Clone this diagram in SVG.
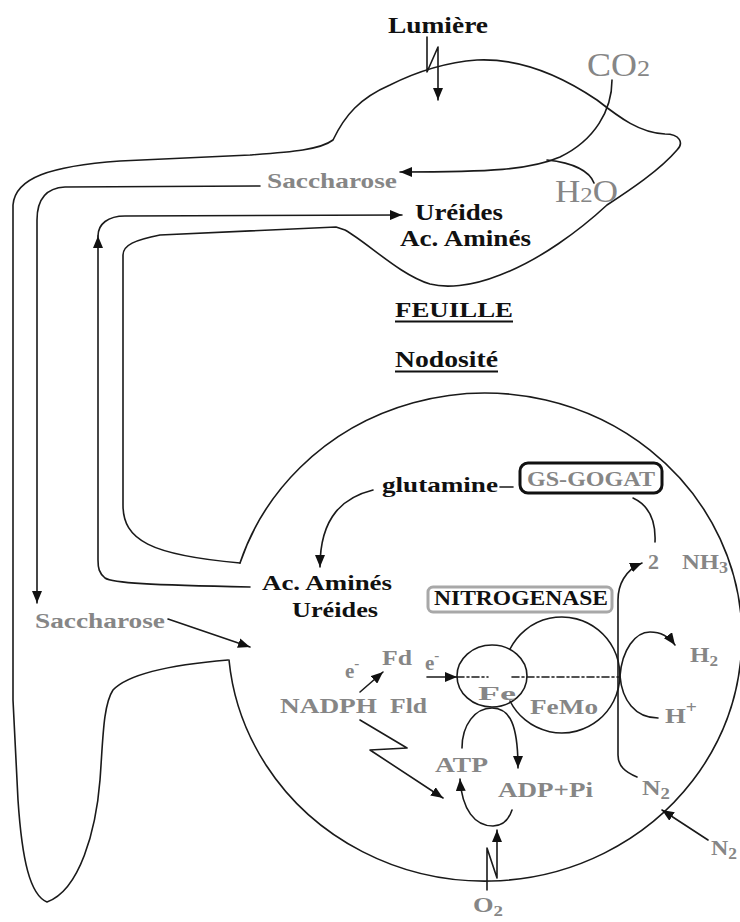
<svg xmlns="http://www.w3.org/2000/svg" width="740" height="922" viewBox="0 0 740 922">
  <style>
    .ln { fill: none; stroke: #1a1a1a; stroke-width: 1.6; stroke-linecap: round; stroke-linejoin: round; }
    .ar { marker-end: url(#head); }
    .tb { font-family: "Liberation Serif", "Times New Roman", serif; font-weight: bold; fill: #111; }
    .tg { font-family: "Liberation Serif", "Times New Roman", serif; font-weight: bold; fill: #868686; }
    .tr { font-family: "Liberation Serif", "Times New Roman", serif; fill: #868686; }
  </style>
  <defs>
    <marker id="head" markerUnits="userSpaceOnUse" markerWidth="13" markerHeight="10" refX="12" refY="5" orient="auto">
      <path d="M0,0 L12,5 L0,10 z" fill="#111"/>
    </marker>
  </defs>
  <rect width="740" height="922" fill="#fff"/>

  <!-- plant outline: leaf, stem and root -->
  <g id="plant">
    <path class="ln" d="M228,660 C180,664 130,672 113,690 C103,705 103,740 100,780 C96,830 80,890 47,902 C30,895 22,860 18,800 L13,700 L13,205 C15,178 50,166 120,161 L250,155 C290,152 320,150 333,140 C345,115 360,98 390,85 C420,70 450,62 477,60 C520,58 560,75 597,100 C620,118 640,133 665,134 C680,134 684,143 677,150 C660,170 630,190 607,205 C580,230 540,260 500,275 C470,287 445,288 430,284 C400,275 368,243 345,230 L336,227 L160,235 C135,240 123,245 123,255 L123,505 C123,540 150,555 240,563"/>
  </g>

  <!-- nodule -->
  <g id="nodule">
    <path class="ln" d="M240,563 A257,244 0 1 1 229,660"/>
  </g>

  <!-- nitrogenase subunits -->
  <g id="nitrogenase-complex">
    <ellipse class="ln" cx="492" cy="676" rx="35" ry="31"/>
    <path class="ln" d="M510,649 A58,58 0 1 1 510,701"/>
  </g>

  <g id="connectors">
    <!-- light -->
    <path class="ln ar" d="M427,37 L427,72 L438,47 L438,100"/>
    <!-- CO2 to sucrose -->
    <path class="ln ar" d="M612,80 C612,110 595,140 560,157 C530,170 490,172 400,172"/>
    <!-- water -->
    <path class="ln" d="M547,160 C575,163 590,172 594,183"/>
    <!-- sucrose down to the nodule -->
    <path class="ln ar" d="M260,186 L65,187 C45,188 37,200 37,220 L37,603"/>
    <path class="ln ar" d="M168,619 L250,647"/>
    <!-- amino acids up to the leaf -->
    <path class="ln ar" d="M250,587 C150,585 112,583 105,578 C99,573 98,568 98,560 L98,236"/>
    <path class="ln ar" d="M98,236 C98,224 108,216 125,216 L402,215"/>
    <!-- glutamine -->
    <path class="ln ar" d="M373,490 C345,497 320,515 320,567"/>
    <path class="ln" d="M500,487 L513,487"/>
    <path class="ln" d="M633,498 C648,505 656,520 655,542"/>
    <!-- N2 to NH3 -->
    <path class="ln ar" d="M637,777 C625,772 618,766 618,755 L618,600 C618,585 625,570 642,563"/>
    <!-- H2 / H+ -->
    <path class="ln ar" d="M620,676 C622,650 635,632 650,632 C662,632 670,638 675,645"/>
    <path class="ln" d="M620,676 C622,700 635,718 658,718"/>
    <!-- electrons -->
    <path class="ln ar" d="M360,692 L383,672"/>
    <path class="ln ar" d="M427,677 L457,677"/>
    <path class="ln" d="M457,677 L488,677 M512,677 L620,677" stroke-dasharray="7 3 2 3" stroke-width="1.2"/>
    <!-- ATP cycle -->
    <path class="ln ar" d="M462,748 C462,725 475,708 492,708 C510,708 518,725 518,768"/>
    <path class="ln ar" d="M512,810 C508,822 500,826 493,826 C475,826 462,810 460,779"/>
    <path class="ln ar" d="M360,720 L407,748 L370,750 L443,798"/>
    <!-- external N2 and O2 -->
    <path class="ln ar" d="M708,840 L662,810"/>
    <path class="ln ar" d="M487,890 L487,848 L497,878 L497,830"/>
  </g>

  <!-- labels -->
  <g id="leaf-labels">
    <text class="tb" x="388" y="33" font-size="24" textLength="100" lengthAdjust="spacingAndGlyphs">Lumière</text>
    <text class="tr" x="587" y="76" font-size="33" textLength="63" lengthAdjust="spacingAndGlyphs">CO<tspan font-size="24">2</tspan></text>
    <text class="tr" x="555" y="202" font-size="31" textLength="63" lengthAdjust="spacingAndGlyphs">H<tspan font-size="22">2</tspan>O</text>
    <text class="tg" x="267" y="188" font-size="22" textLength="130" lengthAdjust="spacingAndGlyphs">Saccharose</text>
    <text class="tb" x="415" y="220" font-size="24" textLength="88" lengthAdjust="spacingAndGlyphs">Uréides</text>
    <text class="tb" x="400" y="246" font-size="24" textLength="131" lengthAdjust="spacingAndGlyphs">Ac. Aminés</text>
  </g>

  <g id="titles">
    <text class="tb" x="395" y="317" font-size="22" textLength="118" lengthAdjust="spacingAndGlyphs">FEUILLE</text>
    <line x1="395" y1="321.5" x2="513" y2="321.5" stroke="#111" stroke-width="2"/>
    <text class="tb" x="395" y="367" font-size="23" textLength="103" lengthAdjust="spacingAndGlyphs">Nodosité</text>
    <line x1="395" y1="371.5" x2="498" y2="371.5" stroke="#111" stroke-width="2"/>
  </g>

  <g id="gs-gogat">
    <rect x="520" y="463" width="142" height="30" rx="8" fill="#fff" stroke="#111" stroke-width="3"/>
    <text class="tg" x="527" y="486" font-size="20" textLength="128" lengthAdjust="spacingAndGlyphs">GS-GOGAT</text>
  </g>

  <g id="nitrogenase">
    <rect x="428" y="587" width="184" height="25" rx="5" fill="#fff" stroke="#a8a8a8" stroke-width="3"/>
    <text class="tb" x="434" y="605" font-size="20" textLength="174" lengthAdjust="spacingAndGlyphs">NITROGENASE</text>
  </g>

  <g id="nodule-labels">
    <text class="tb" x="382" y="492" font-size="22" textLength="116" lengthAdjust="spacingAndGlyphs">glutamine</text>
    <text class="tb" x="262" y="590" font-size="22" textLength="130" lengthAdjust="spacingAndGlyphs">Ac. Aminés</text>
    <text class="tb" x="292" y="617" font-size="22" textLength="86" lengthAdjust="spacingAndGlyphs">Uréides</text>
    <text class="tg" x="35" y="628" font-size="20" textLength="130" lengthAdjust="spacingAndGlyphs">Saccharose</text>
    <text class="tg" x="648" y="569" font-size="22">2</text>
    <text class="tg" x="682" y="569" font-size="22" textLength="46" lengthAdjust="spacingAndGlyphs">NH<tspan font-size="16" dy="4">3</tspan></text>
    <text class="tg" x="382" y="665" font-size="21" textLength="30" lengthAdjust="spacingAndGlyphs">Fd</text>
    <text class="tg" x="425" y="670" font-size="21">e<tspan font-size="15" dy="-10">-</tspan></text>
    <text class="tg" x="345" y="678" font-size="21">e<tspan font-size="15" dy="-10">-</tspan></text>
    <text class="tg" x="280" y="713" font-size="20" textLength="97" lengthAdjust="spacingAndGlyphs">NADPH</text>
    <text class="tg" x="390" y="713" font-size="20" textLength="37" lengthAdjust="spacingAndGlyphs">Fld</text>
    <text class="tg" x="478" y="700" font-size="19" textLength="38" lengthAdjust="spacingAndGlyphs">Fe</text>
    <text class="tg" x="530" y="714" font-size="20" textLength="68" lengthAdjust="spacingAndGlyphs">FeMo</text>
    <text class="tg" x="690" y="662" font-size="22" textLength="28" lengthAdjust="spacingAndGlyphs">H<tspan font-size="15" dy="4">2</tspan></text>
    <text class="tg" x="665" y="723" font-size="22" textLength="32" lengthAdjust="spacingAndGlyphs">H<tspan font-size="16" dy="-10">+</tspan></text>
    <text class="tg" x="435" y="772" font-size="20" textLength="53" lengthAdjust="spacingAndGlyphs">ATP</text>
    <text class="tg" x="498" y="797" font-size="20" textLength="95" lengthAdjust="spacingAndGlyphs">ADP+Pi</text>
    <text class="tg" x="642" y="795" font-size="22" textLength="28" lengthAdjust="spacingAndGlyphs">N<tspan font-size="16" dy="4">2</tspan></text>
    <text class="tg" x="711" y="855" font-size="22" textLength="26" lengthAdjust="spacingAndGlyphs">N<tspan font-size="16" dy="4">2</tspan></text>
    <text class="tg" x="473" y="912" font-size="21" textLength="30" lengthAdjust="spacingAndGlyphs">O<tspan font-size="15" dy="4">2</tspan></text>
  </g>
</svg>
